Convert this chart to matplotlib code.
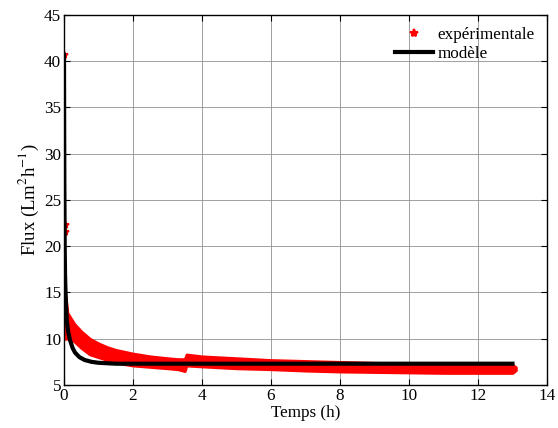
import matplotlib.pyplot as plt

# experimental points (isolated early values)
t_early = [0.0, 0.03, 0.03]
flux_early = [40.7, 22.3, 21.5]

# experimental band (upper / lower edge of the dense point cloud)
t_band = [0.01, 0.05, 0.1, 0.2, 0.3, 0.5, 0.75, 1.0, 1.25, 1.5, 2.0, 2.5, 3.0,
          3.3, 3.5, 3.55, 4.0, 5.0, 6.0, 7.0, 8.0, 9.0, 10.0, 11.0, 12.0,
          13.0, 13.1]
flux_hi = [15.2, 14.5, 12.8, 12.2, 11.6, 10.8, 10.0, 9.5, 9.1, 8.8, 8.4, 8.1,
           7.9, 7.8, 7.8, 8.3, 8.1, 7.9, 7.7, 7.6, 7.5, 7.4, 7.35, 7.3, 7.3,
           7.2, 6.9]
flux_lo = [10.0, 10.0, 10.0, 9.9, 9.7, 9.0, 8.3, 8.0, 7.7, 7.4, 7.1, 6.95,
           6.8, 6.7, 6.5, 7.1, 7.0, 6.8, 6.7, 6.55, 6.45, 6.4, 6.35, 6.3, 6.3,
           6.3, 6.6]

# model
t_mod = [0, 0.005, 0.01, 0.02, 0.03, 0.04, 0.06, 0.08, 0.12, 0.17, 0.25, 0.32,
         0.45, 0.6, 0.8, 1.0, 1.5, 2.0, 3.0, 4.0, 13.0]
flux_mod = [40.7, 33.0, 27.0, 20.0, 17.0, 15.5, 13.5, 12.0, 10.8, 9.9, 9.0,
            8.5, 8.0, 7.7, 7.5, 7.4, 7.3, 7.3, 7.3, 7.3, 7.3]

plt.rcParams['font.family'] = ['Liberation Serif', 'DejaVu Serif']
plt.rcParams['font.size'] = 12.3
plt.rcParams['mathtext.fontset'] = 'stix'

fig = plt.figure(figsize=(5.58, 4.28), dpi=100)
ax = fig.add_axes([0.1147, 0.1005, 0.8655, 0.8645])

ax.fill_between(t_band, flux_lo, flux_hi, facecolor='red', edgecolor='red',
                lw=2.0, zorder=2)
ax.plot(t_early, flux_early, '*', color='red', ms=6, mew=1.5, zorder=2,
        label='expérimentale')
ax.plot(t_mod, flux_mod, '-', color='black', lw=3, zorder=3, label='modèle')

ax.set_xlim(0, 14)
ax.set_ylim(5, 45)
ax.set_xticks(range(0, 15, 2))
ax.set_yticks(range(5, 46, 5))
ax.grid(True, color='#909090', lw=0.6)
ax.tick_params(direction='in', top=True, right=True, length=4, pad=2)
for s in ax.spines.values():
    s.set_linewidth(1.0)

ax.set_xlabel('Temps (h)', labelpad=1)
ax.set_ylabel('Flux (Lm$^2$h$^{-1}$)', labelpad=2, fontsize=13.5)

ax.legend(loc='upper right', frameon=False, handlelength=2.2,
          handletextpad=0.3, labelspacing=0.2, borderaxespad=0.3)

fig.savefig('out.png', dpi=100)
